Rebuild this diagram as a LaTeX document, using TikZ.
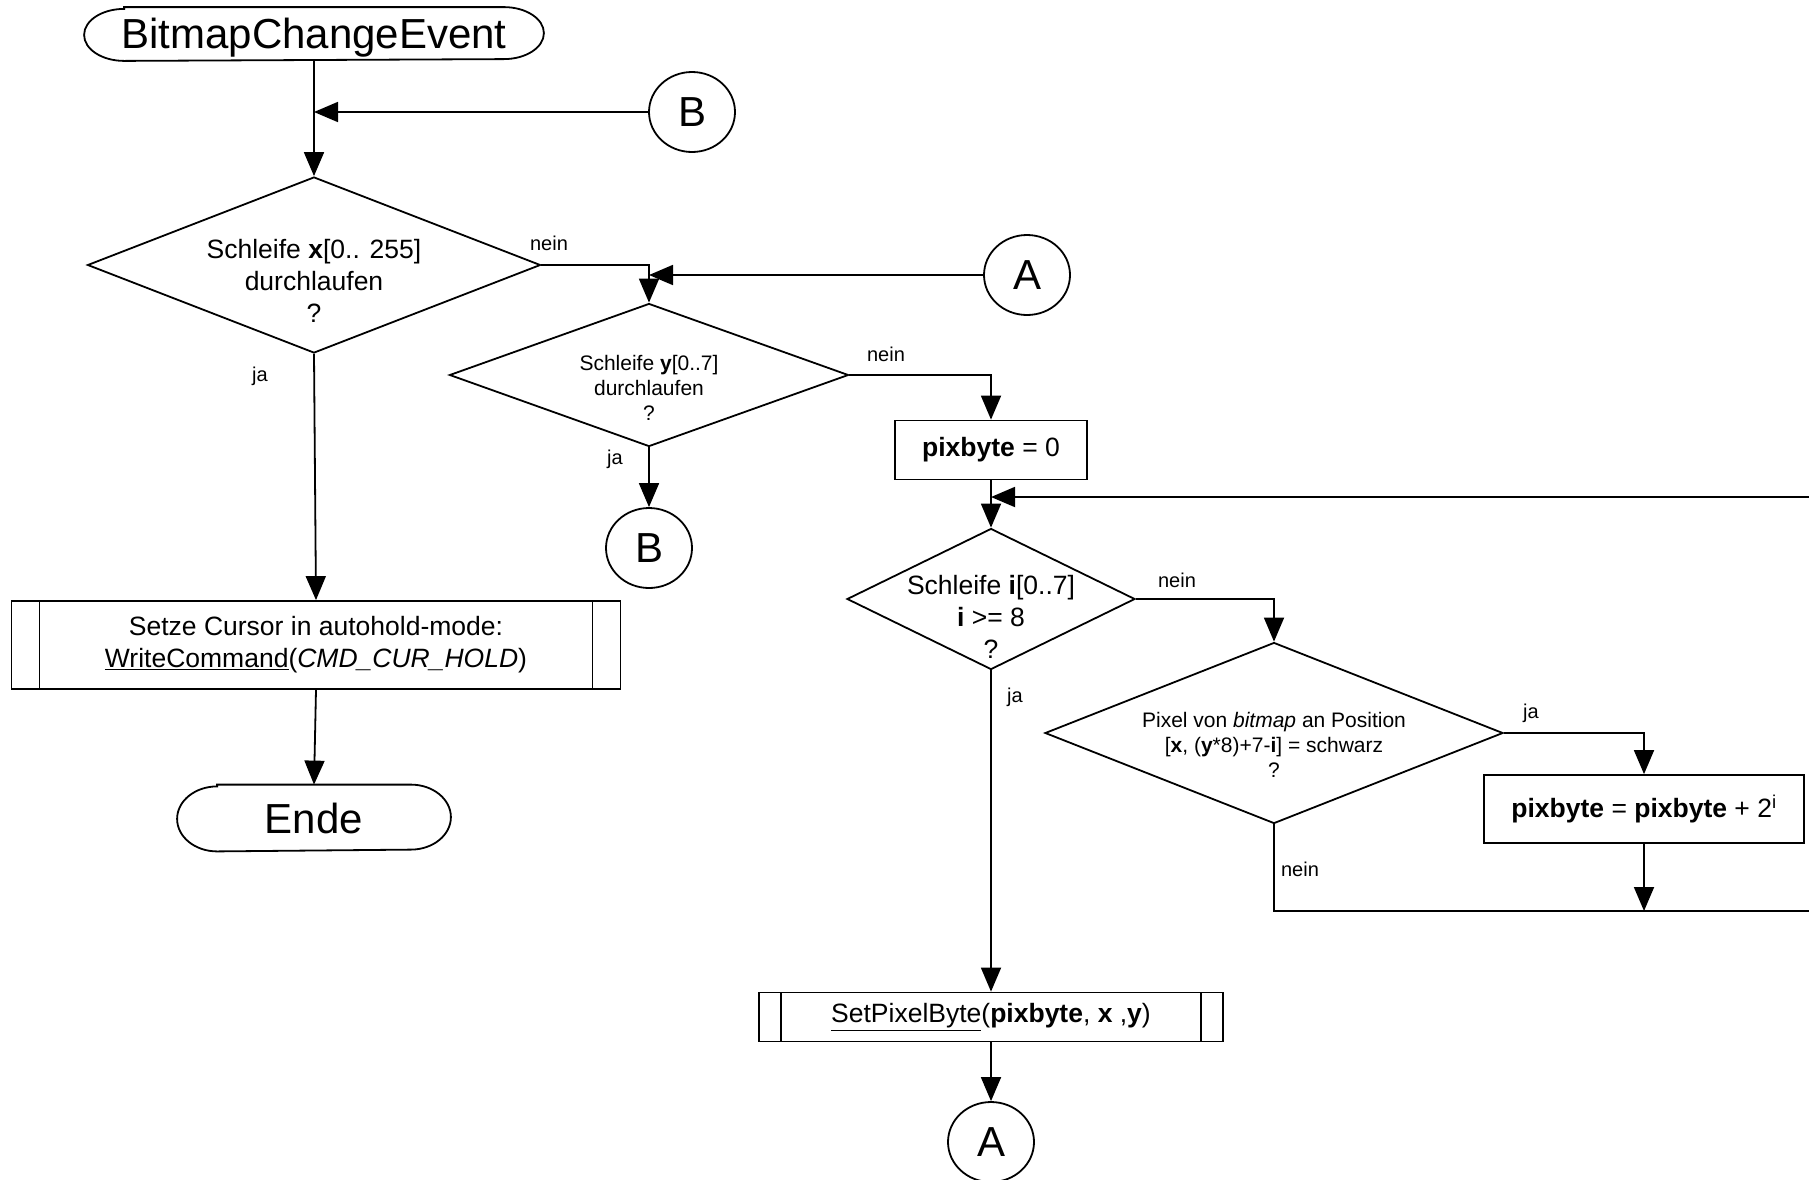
\documentclass[tikz,border=0pt]{standalone}
\usepackage{fontspec}
\setmainfont{Liberation Sans}
\usetikzlibrary{shapes.geometric,arrows.meta}

\begin{document}
\begin{tikzpicture}[x=1pt,y=-1pt,line width=1.8pt,
  every node/.style={inner sep=0pt},
  flow/.style={-{Triangle[length=24pt,width=20pt]}},
  big/.style={font=\fontsize{42}{50}\selectfont},
  mid/.style={font=\fontsize{26.5}{32}\selectfont},
  small/.style={font=\fontsize{21}{25}\selectfont},
  lbl/.style={font=\fontsize{20}{24}\selectfont},
  termbox/.style={big,minimum width=#1},
  connector/.style={draw,ellipse,big,minimum width=86pt,minimum height=80pt},
  decision/.style={draw,diamond},
  dtext/.style={align=center},
  process/.style={draw,rectangle,mid,align=center},
  subproc/.style={draw,rectangle,mid,align=center,
    path picture={\draw[line width=1.8pt]
      ([xshift=#1]path picture bounding box.north west) -- ([xshift=#1]path picture bounding box.south west)
      ([xshift=-#1]path picture bounding box.north east) -- ([xshift=-#1]path picture bounding box.south east);}}]

\useasboundingbox (0,0) rectangle (1809,1179);
\fill[white] (0,0) rectangle (1809,1179);
\clip (0,0) rectangle (1809,1179);

% outline of a terminator: straight top and bottom, elliptic ends
\newcommand\termoutline[3]{%
  \draw ([xshift=#2]#1.north west) -- ([xshift=-#2]#1.north east)
    arc[start angle=90,end angle=-90,x radius=#2,y radius=#3]
    -- ([xshift=#2]#1.south west)
    arc[start angle=270,end angle=90,x radius=#2,y radius=#3] -- cycle;}

% terminators
\node[termbox=458pt,minimum height=52pt] (start) at (314,34)
  {\raisebox{-4pt}[\height][\depth]{BitmapChangeEvent}};
\termoutline{start}{40pt}{26pt}
\node[termbox=272pt,minimum height=65pt] (ende) at (314,818) {Ende};
\termoutline{ende}{40pt}{32.5pt}

% off-page connectors
\node[connector] (B1) at (692,112) {B};
\node[connector] (A1) at (1027,275) {A};
\node[connector] (B2) at (649,548) {B};
\node[connector] (A2) at (991,1142) {A};

% decisions
\node[decision,minimum width=453pt,minimum height=176pt] (d1) at (314,265) {};
\node[dtext,mid] (d1t) at (314,281) {Schleife \textbf{x}[0.. 255]\\durchlaufen\\?};
\node[decision,minimum width=399pt,minimum height=143pt] (d2) at (649,375) {};
\node[dtext,small] (d2t) at (649,388) {Schleife \textbf{y}[0..7]\\durchlaufen\\?};
\node[decision,minimum width=288pt,minimum height=141pt] (d3) at (991,599) {};
\node[dtext,mid] (d3t) at (991,617) {Schleife \textbf{i}[0..7]\\\textbf{i} >= 8\\?};
\node[decision,minimum width=458pt,minimum height=181pt] (d4) at (1274,733) {};
\node[dtext,small] (d4t) at (1274,745) {Pixel von \textit{bitmap} an Position\\{}[\textbf{x}, (\textbf{y}*8)+7-\textbf{i}] = schwarz\\?};

% processes
\node[process,minimum width=192pt,minimum height=59pt] (p0) at (991,450) {\textbf{pixbyte} = 0};
\node[process,minimum width=320pt,minimum height=68pt] (p1) at (1644,809) {\textbf{pixbyte} = \textbf{pixbyte} + 2\textsuperscript{i}};
\node[subproc=28pt,minimum width=609pt,minimum height=88pt] (s1) at (316,645)
  {Setze Cursor in autohold-mode:\\\underline{WriteCommand}(\textit{CMD\_CUR\_HOLD})};
\node[subproc=22pt,minimum width=464pt,minimum height=49pt] (s2) at (991,1017)
  {\underline{SetPixelByte}(\textbf{pixbyte}, \textbf{x} ,\textbf{y})};

% loop return points beyond the right edge
\coordinate (m) at (1644,911);
\coordinate (lb) at (1830,911);
\coordinate (lt) at (1830,497);

% connectors
\draw[flow] (start.south) -- (d1.north);
\draw[flow] (B1.west) -- (B1.west -| start.south);
\draw[flow] (d1.east) -| (d2.north);
\draw[flow] (A1.west) -- (A1.west -| d2.north);
\draw[flow] (d2.east) -| (p0.north);
\draw[flow] (d2.south) -- (B2.north);
\draw[flow] (d1.south) -- (s1.north);
\draw[flow] (s1.south) -- (ende.north);
\draw[flow] (p0.south) -- (d3.north);
\draw[flow] (d3.east) -| (d4.north);
\draw[flow] (d3.south) -- (s2.north);
\draw[flow] (s2.south) -- (A2.north);
\draw[flow] (d4.east) -| (p1.north);
\draw[flow] (p1.south) -- (m);
\draw[flow] (d4.south) |- (lb) -- (lt) -- (lt -| p0.south);

% branch labels
\node[lbl] (l1) at (549,243) {nein};
\node[lbl] (l2) at (260,376) {ja};
\node[lbl] (l3) at (886,354) {nein};
\node[lbl] (l4) at (615,459) {ja};
\node[lbl] (l5) at (1177,580) {nein};
\node[lbl] (l6) at (1015,697) {ja};
\node[lbl] (l7) at (1531,713) {ja};
\node[lbl] (l8) at (1300,869) {nein};
\end{tikzpicture}
\end{document}
